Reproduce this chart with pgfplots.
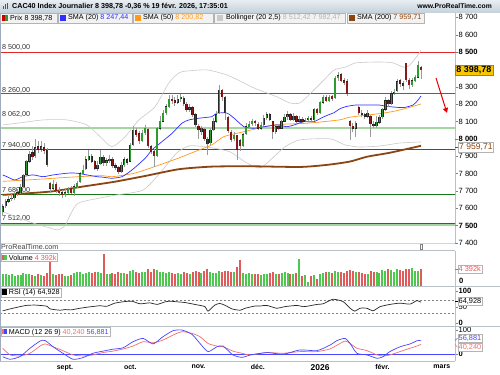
\documentclass[border=0pt]{standalone}
\usepackage{pgfplots}
\pgfplotsset{compat=1.18}
\usepackage{pgfplotstable}
\usepackage{fontspec}
\setmainfont{Liberation Sans}
\usetikzlibrary{arrows.meta}
\newcommand{\fs}[1]{\fontsize{#1}{#1}\selectfont}
\definecolor{upg}{HTML}{2E9B2E}
\definecolor{dnr}{HTML}{8A1A1A}
\definecolor{wick}{HTML}{9A9A9A}
\definecolor{volg}{HTML}{4CC84C}
\definecolor{volr}{HTML}{E25B5B}
\definecolor{sma20}{HTML}{2F2FFF}
\definecolor{sma50}{HTML}{FF9A1A}
\definecolor{sma200}{HTML}{8B4513}
\definecolor{boll}{HTML}{CACACA}
\definecolor{bolltxt}{HTML}{B4B4B4}
\definecolor{lvlg}{HTML}{1E8C1E}
\definecolor{lvllg}{HTML}{A6D6A0}
\definecolor{lvlr}{HTML}{E02828}
\definecolor{axgray}{HTML}{B8C0C8}
\definecolor{sepblue}{HTML}{C8D6F0}
\definecolor{hdr1}{HTML}{E8EEF2}
\definecolor{hdr2}{HTML}{C6D2DC}
\definecolor{boxbg}{HTML}{F2F2F2}
\definecolor{boxbd}{HTML}{B4B4B4}
\definecolor{pricey}{HTML}{F7C600}
\definecolor{macdb}{HTML}{4646FF}
\definecolor{macdr}{HTML}{F07070}

\pgfplotstableread{
i o h l c v
0 7580 7625 7560 7610 3200
1 7615 7655 7600 7640 3000
2 7640 7670 7630 7650 2900
3 7655 7690 7640 7660 3100
4 7660 7700 7650 7680 2700
5 7685 7710 7670 7690 2800
6 7690 7740 7680 7720 2900
7 7725 7800 7720 7790 3300
8 7795 7880 7790 7870 3100
9 7870 7930 7860 7910 3000
10 7920 7960 7880 7895 2900
11 7900 8000 7890 7950 2700
12 7955 7990 7920 7940 3000
13 7940 7985 7925 7955 2800
14 7950 7975 7910 7930 2600
15 7935 7950 7840 7850 3300
16 7745 7750 7690 7715 6200
17 7715 7760 7700 7740 3000
18 7740 7750 7690 7700 2900
19 7700 7720 7670 7690 3100
20 7690 7705 7660 7680 3200
21 7680 7710 7665 7690 2600
22 7690 7725 7680 7710 2700
23 7715 7730 7680 7690 2800
24 7690 7740 7670 7725 3300
25 7725 7760 7715 7745 3500
26 7750 7810 7745 7800 3600
27 7800 7850 7795 7820 3200
28 7825 7900 7820 7880 3400
29 7880 7935 7870 7900 3600
30 7900 7910 7860 7870 3400
31 7870 7880 7820 7830 3700
32 7830 7870 7815 7850 3500
33 7855 7935 7850 7895 3300
34 7895 7905 7845 7860 8300
35 7860 7890 7845 7875 3200
36 7875 7905 7860 7885 3000
37 7885 7895 7830 7845 3400
38 7845 7860 7820 7835 3100
39 7835 7845 7795 7810 3500
40 7810 7865 7805 7850 3400
41 7850 7895 7840 7880 3300
42 7880 7890 7850 7865 3000
43 7870 7975 7865 7965 4000
44 7965 8075 7960 8050 4100
45 8050 8060 8010 8025 3600
46 8030 8045 7970 7990 3400
47 7990 8050 7980 8035 3500
48 8035 8080 8025 8060 3600
49 8055 8060 7945 7960 4300
50 7955 7965 7910 7925 3700
51 7930 7940 7835 7900 4400
52 7900 8070 7895 8060 4200
53 8060 8130 8050 8100 3500
54 8100 8165 8095 8150 3600
55 8150 8200 8140 8185 3400
56 8185 8255 8180 8230 3700
57 8230 8250 8200 8220 3300
58 8220 8240 8190 8210 3100
59 8210 8250 8200 8230 3300
60 8230 8260 8215 8240 3000
61 8235 8245 8190 8200 3500
62 8200 8215 8155 8170 3400
63 8170 8200 8155 8180 3100
64 8180 8190 8125 8140 3600
65 8140 8150 8070 8080 3800
66 8075 8085 8000 8050 3700
67 8040 8075 8020 8060 3300
68 8055 8065 7990 8000 3900
69 8000 8010 7905 7970 4400
70 7975 8060 7965 8050 3600
71 8050 8120 8045 8100 3400
72 8100 8160 8090 8140 3300
73 8150 8310 8145 8280 3900
74 8280 8290 8220 8240 3700
75 8240 8245 8110 8150 4000
76 8125 8130 8035 8045 3800
77 8040 8050 7980 7995 3600
78 8000 8040 7985 8020 3500
79 8020 8025 7880 7940 4800
80 7990 8000 7930 7960 6800
81 7960 8035 7955 8025 3400
82 8030 8090 8025 8070 3200
83 8070 8100 8060 8085 3300
84 8085 8115 8075 8100 3000
85 8100 8110 8075 8090 3100
86 8085 8095 8050 8060 3200
87 8060 8095 8050 8080 2900
88 8080 8140 8075 8120 3100
89 8120 8155 8110 8140 3000
90 8140 8150 8100 8110 3300
91 8100 8105 8000 8040 3500
92 8040 8080 8030 8070 3200
93 8070 8085 8050 8060 3100
94 8060 8110 8055 8100 3300
95 8100 8145 8095 8125 3500
96 8125 8160 8110 8140 3400
97 8140 8150 8100 8110 3200
98 8110 8150 8100 8130 3000
99 8130 8140 8090 8100 3300
100 8100 8130 8090 8115 7100
101 8115 8125 8090 8100 2600
102 8100 8120 8095 8110 2900
103 8110 8130 8100 8120 1000
104 8120 8130 8100 8110 2500
105 8110 8180 8105 8170 2800
106 8170 8175 8140 8150 1800
107 8150 8220 8145 8210 3000
108 8210 8255 8200 8240 3400
109 8240 8250 8210 8220 3600
110 8220 8255 8215 8240 3500
111 8245 8250 8220 8230 3300
112 8235 8360 8230 8350 3900
113 8350 8385 8335 8365 3500
114 8370 8380 8325 8335 3600
115 8335 8350 8310 8325 3400
116 8330 8345 8245 8260 3800
117 8100 8110 7995 8075 4200
118 8075 8090 8040 8060 3900
119 8060 8100 8010 8090 3700
120 8180 8190 8135 8150 3500
121 8150 8165 8125 8140 3300
122 8140 8150 8115 8130 3200
123 8130 8165 8120 8150 3100
124 8130 8140 8010 8085 4000
125 8085 8100 8060 8075 3600
126 8075 8130 8065 8095 3500
127 8095 8140 8085 8125 3400
128 8125 8180 8115 8170 4200
129 8170 8240 8160 8220 4000
130 8220 8230 8185 8200 4300
131 8200 8275 8195 8260 4100
132 8260 8290 8250 8270 3700
133 8275 8345 8270 8330 4400
134 8335 8345 8300 8320 4100
135 8320 8335 8280 8305 3900
136 8435 8440 8330 8340 4500
137 8340 8350 8290 8310 4300
138 8310 8350 8300 8335 4600
139 8335 8370 8325 8355 3800
140 8355 8450 8350 8425 3900
141 8412 8420 8345 8398.78 4392
}\candles

\pgfplotsset{panel/.style={scale only axis, width=455bp, xmin=-0.91, xmax=152.45,
  axis y line*=right, y axis line style={draw=axgray, line width=0.5bp},
  tick align=outside, major tick length=2.5bp, tick style={draw=gray, line width=0.4bp},
  yticklabel style={font=\fs{7.6}, inner sep=1bp},
  clip mode=individual, anchor=south west},
  nox/.style={axis x line=none}}

\begin{document}
\begin{tikzpicture}
\path[use as bounding box] (0,0) rectangle (500bp,-375bp);
\fill[white] (0,0) rectangle (500bp,-375bp);

% level labels (behind candles)
\begin{scope}[font=\fs{7.2}, text=black!80]
\node[anchor=west,inner sep=0] at (2bp,-47.3bp) {8 500,00};
\node[anchor=west,inner sep=0] at (2bp,-90bp) {8 260,00};
\node[anchor=west,inner sep=0] at (2bp,-114.3bp) {8 062,00};
\node[anchor=west,inner sep=0] at (2bp,-145bp) {7 940,00};
\node[anchor=west,inner sep=0] at (2bp,-190bp) {7 680,00};
\node[anchor=west,inner sep=0] at (2bp,-218.5bp) {7 512,00};
\end{scope}

% ===== main price panel =====
\begin{axis}[panel, nox, at={(0bp,-243.3bp)}, height=231.3bp, ymin=7398, ymax=8731,
  ytick={7400,7600,7700,7800,7900,8100,8200,8300,8600,8700},
  yticklabels={7 400,7 600,7 700,7 800,7 900,8 100,8 200,8 300,8 600,8 700},
  extra y ticks={7500,8000,8500},
  extra y tick labels={\textbf{7 500},\textbf{8 000},\textbf{8 500}}]
\addplot[lvlr, line width=1bp] coordinates {(-1,8500) (153,8500)};
\addplot[lvlg, line width=1bp] coordinates {(-1,8260) (153,8260)};
\addplot[lvllg, line width=2.6bp] coordinates {(-1,8062) (153,8062)};
\addplot[lvlg!80!black, line width=1.4bp] coordinates {(-1,7940) (153,7940)};
\addplot[lvlg!85!black, line width=1.1bp] coordinates {(-1,7680) (153,7680)};
\addplot[lvllg, line width=2.2bp] coordinates {(-1,7506) (153,7506)};
\addplot[lvlg!85!black, line width=1.1bp] coordinates {(-1,7512) (153,7512)};
\addplot[boll, line width=0.6bp, smooth, tension=0.4] coordinates {(0,8080) (5.8,8092) (13.6,8109) (21.7,8109) (28.4,8080) (32.8,8013) (36.8,7955) (41.2,8011) (45.9,8109) (51.3,8184) (56,8322) (59.4,8380) (62.1,8391) (68.9,8397) (75.6,8368) (81.3,8322) (84.7,8293) (92.4,8242) (96.8,8207) (100.2,8207) (103.9,8265) (108.3,8340) (111.7,8397) (115.7,8414) (119.1,8438) (126.8,8443) (131.5,8438) (134.9,8414) (136.9,8420) (140,8484) (141,8512)};
\addplot[boll, line width=0.6bp, smooth, tension=0.4] coordinates {(0,7580) (10.2,7515) (16,7486) (18.6,7475) (21,7500) (23,7570) (25.5,7630) (32.8,7659) (38.5,7677) (47.3,7705) (53,7803) (58.7,7919) (63.1,7960) (69.9,7950) (76.6,7925) (81.7,7867) (86,7832) (88.4,7850) (95.1,7953) (100.2,7994) (110.3,8000) (115.4,7965) (120.4,7953) (127.2,7959) (133.9,7976) (141,7982)};
\addplot[sma200, line width=1.8bp, smooth, tension=0.4] coordinates {(0,7677) (16,7696) (27,7725) (37.8,7753) (48,7786) (59.4,7825) (70.5,7840) (83.4,7842) (100.2,7838) (109.3,7850) (117,7869) (122.8,7897) (130.5,7920) (141,7960)};
\addplot[sma50, line width=0.7bp, smooth, tension=0.4] coordinates {(0,7755) (10.2,7765) (21.7,7778) (32.8,7788) (37,7782) (43.9,7800) (48,7821) (55.4,7865) (59.4,7890) (66.2,7936) (70.5,7965) (74.6,8013) (81.3,8041) (91.4,8080) (102.6,8090) (113.4,8109) (117.1,8125) (128.2,8148) (134,8167) (141,8201)};
\addplot[sma20, line width=0.7bp, smooth, tension=0.4] coordinates {(0,7792) (1.4,7782) (4.1,7763) (6.8,7782) (10.2,7792) (13.6,7782) (17,7792) (21.7,7802) (25,7802) (28.4,7792) (31.8,7782) (33.8,7779) (36.8,7773) (40.2,7782) (43.6,7821) (48,7888) (50.3,7936) (53.7,7984) (57.1,8032) (60.4,8090) (62.8,8109) (66.2,8119) (70.5,8128) (72.2,8148) (75.6,8148) (78,8119) (81.3,8070) (84.7,8061) (88.1,8070) (92.5,8080) (95.8,8070) (98.2,8080) (101.5,8099) (104.9,8099) (108.3,8128) (111.7,8151) (113.4,8171) (115.7,8186) (119.1,8195) (123.5,8195) (126.8,8195) (130.2,8186) (134.9,8180) (138.3,8195) (140,8224) (141,8247)};
\addplot[draw=none, mark=none, error bars/.cd, y dir=both, y explicit, error mark=none,
  error bar style={draw=wick, line width=0.6bp}]
  table[x=i, y expr={(\thisrow{h}+\thisrow{l})/2}, y error expr={(\thisrow{h}-\thisrow{l})/2}] {\candles};
\addplot[draw=none, mark=none, error bars/.cd, y dir=both, y explicit, error mark=none,
  error bar style={draw=black!85, line width=2.3bp}]
  table[x=i, y expr={(\thisrow{o}+\thisrow{c})/2}, y error expr={max(abs(\thisrow{c}-\thisrow{o})/2+1.5,3)}] {\candles};
\addplot[draw=none, mark=none, error bars/.cd, y dir=both, y explicit, error mark=none,
  error bar style={draw=upg, line width=1.4bp}]
  table[x=i, y expr={(\thisrow{c}>=\thisrow{o}) ? (\thisrow{o}+\thisrow{c})/2 : nan}, y error expr={max(abs(\thisrow{c}-\thisrow{o})/2,1.5)}] {\candles};
\addplot[draw=none, mark=none, error bars/.cd, y dir=both, y explicit, error mark=none,
  error bar style={draw=dnr, line width=1.4bp}]
  table[x=i, y expr={(\thisrow{c}<\thisrow{o}) ? (\thisrow{o}+\thisrow{c})/2 : nan}, y error expr={max(abs(\thisrow{c}-\thisrow{o})/2,1.5)}] {\candles};
\end{axis}

% ===== volume panel =====
\begin{axis}[panel, nox, at={(0bp,-286bp)}, height=35bp, ymin=0, ymax=9050, ytick=\empty]
\addplot[ycomb, draw=volg, line width=2bp] table[x=i, y expr={(\thisrow{c}>=\thisrow{o}) ? \thisrow{v} : nan}] {\candles};
\addplot[ycomb, draw=volr, line width=2bp] table[x=i, y expr={(\thisrow{c}<\thisrow{o}) ? \thisrow{v} : nan}] {\candles};
\end{axis}

% ===== RSI panel =====
\begin{axis}[panel, nox, at={(0bp,-326bp)}, height=40bp, ymin=-9.4, ymax=115.6,
  ytick={0,50,100}, yticklabels={\textbf{0},50,\textbf{100}}]
\addplot[gray, line width=0.5bp, dash pattern=on 2bp off 2bp] coordinates {(-1,70) (153,70)};
\addplot[gray, line width=0.5bp, dash pattern=on 2bp off 2bp] coordinates {(-1,30) (153,30)};
\addplot[black!85, line width=0.7bp, smooth, tension=0.4] coordinates {(0,38) (2.5,44) (5.8,51) (8,55) (10.9,56) (13.6,54) (15,52) (16,44) (19.3,40) (21,42) (23,41) (26,46) (29,50) (32.8,54) (35,52) (37.8,62) (41.2,67) (43.6,68) (46.3,60) (49.6,63) (52,58) (54.7,66) (56.4,68) (59,66) (61.4,64) (64.8,58) (68.2,51) (69.2,37) (71.5,56) (73.2,61) (75,55) (77.3,44) (80,40) (81.7,46) (85,53) (86.7,53) (89,55) (92.4,46) (95,51) (99.2,55) (101.2,51) (103,53) (105.9,58) (108,60) (111.3,74) (114.7,67) (117.1,46) (118.7,37) (120.4,46) (122.8,46) (124.8,38) (127.2,51) (130.5,58) (133.9,62) (137.3,59) (139.6,70) (141,64.928)};
\end{axis}

% ===== MACD panel =====
\begin{axis}[panel, at={(0bp,-361bp)}, height=35bp, ymin=-29.2, ymax=116.7,
  ytick={0,100}, yticklabels={\textbf{0},100},
  axis x line*=bottom, x axis line style={draw=axgray, line width=0.5bp},
  xtick={21,43,66,86,107,128,148},
  xticklabels={sept.,oct.,nov.,déc.,{\fs{8.5}2026},févr.,mars},
  xticklabel style={font=\bfseries\fs{7}, inner sep=1bp},
  xtick style={draw=none}, xticklabel pos=lower]
\addplot[macdb, line width=1bp] coordinates {(-1,0) (153,0)};
\addplot[macdr, line width=0.7bp, smooth, tension=0.4] coordinates {(0,24) (2.5,-4) (5.8,-8) (9.2,3) (12.6,33) (14.3,42) (17,30) (20.3,14) (23.7,-4) (27.1,-8) (30.4,-4) (33.8,6) (37.2,12) (40.6,21) (43.9,33) (47.3,51) (50.7,47) (54,58) (57.4,79) (60.4,93) (63.8,86) (66.5,72) (69.2,44) (72.2,33) (74.3,30) (77.6,12) (80.7,3) (83.4,-4) (89.1,6) (94.5,3) (100.2,10) (105.9,10) (110.3,21) (112.7,37) (115.4,54) (117.1,44) (119.4,24) (122.8,14) (126.2,-4) (128.2,-8) (130.5,-4) (133.9,10) (137.3,24) (139.6,33) (141,40.24)};
\addplot[macdb, line width=0.7bp, smooth, tension=0.4] coordinates {(0,-11) (2.5,-22) (5.8,-11) (9.2,24) (12.6,54) (14.3,56) (17,30) (20.3,3) (23.7,-22) (27.1,-15) (30.4,3) (33.8,12) (37.2,20) (40.6,26) (43.9,51) (47.3,65) (50.7,42) (54,72) (57.4,97) (60.4,100) (63.8,82) (66.5,44) (69.2,10) (72.2,30) (74.3,33) (77.6,-4) (80.7,-14) (83.4,-4) (89.1,6) (94.5,-1) (100.2,17) (105.9,14) (110.3,37) (112.7,56) (115.4,65) (117.1,44) (119.4,3) (122.8,-4) (126.2,-18) (128.2,-11) (130.5,10) (133.9,30) (137.3,42) (139.6,55) (141,56.881)};
\end{axis}

% ===== right-hand value boxes (pixel positions) =====
\begin{scope}[vbox/.style={anchor=west, draw=boxbd, fill=white, inner sep=1bp, line width=0.4bp}]
\node[anchor=west, fill=pricey, draw=black!50, line width=0.3bp, inner sep=1.3bp, font=\bfseries\fs{9}] at (455bp,-70.2bp) {8 398,78};
\draw[sma200, line width=0.5bp] (455bp,-147.2bp) -- (458bp,-147.2bp);
\node[vbox, text=sma200, font=\fs{8.6}] at (458bp,-147.2bp) {7 959,71};
\draw[volr, line width=0.5bp] (455bp,-269bp) -- (457.5bp,-269bp);
\node[vbox, text=volr, font=\fs{7.4}] at (457.5bp,-269bp) {4 392k};
\node[anchor=west, font=\bfseries\fs{7.6}, inner sep=0] at (459bp,-281bp) {0};
\draw[black, line width=0.5bp] (455bp,-301.5bp) -- (457.5bp,-301.5bp);
\node[vbox, text=black, font=\fs{7.4}] at (457.5bp,-301.5bp) {64,928};
\draw[macdb, line width=0.5bp] (455bp,-340.3bp) -- (457.5bp,-338.3bp);
\node[vbox, text=macdb, font=\fs{7.4}] at (457.5bp,-338.3bp) {56,881};
\draw[macdr, line width=0.5bp] (455bp,-344.3bp) -- (457.5bp,-347.3bp);
\node[vbox, text=macdr, font=\fs{7.4}] at (457.5bp,-347.3bp) {40,240};
\end{scope}

% separators
\draw[sepblue, line width=0.8bp] (0,-243.3bp) -- (455bp,-243.3bp);
\draw[axgray, line width=0.6bp] (0,-250.7bp) -- (455bp,-250.7bp);
\draw[axgray, line width=0.6bp] (0,-286bp) -- (500bp,-286bp);
\draw[axgray, line width=0.6bp] (0,-326bp) -- (500bp,-326bp);
\draw[axgray, line width=0.6bp] (0,-361bp) -- (455bp,-361bp);
\draw[sepblue!80!black, line width=0.8bp] (0.4bp,-12bp) -- (0.4bp,-361bp);

\node[anchor=west, font=\fs{7.2}, text=black!75, inner sep=0] at (1bp,-246.8bp) {ProRealTime.com};
\node[draw=gray, inner sep=0.6bp, font=\fs{5}, text=gray] at (421bp,-246.5bp) {i};

% panel legends
\node[anchor=west, draw=boxbd, fill=white, inner sep=1.2bp, font=\fs{7.2}, line width=0.4bp] at (1bp,-257.5bp) {\textcolor{volr}{\rule{2bp}{5.5bp}}\textcolor{volg}{\rule{2.5bp}{5.5bp}}\ Volume \textcolor{volr}{4 392k}};
\node[anchor=west, draw=boxbd, fill=white, inner sep=1.2bp, font=\fs{7.2}, line width=0.4bp] at (1bp,-292.5bp) {\rule{4.5bp}{5.5bp}\ RSI (14) 64,928};
\node[anchor=west, draw=boxbd, fill=white, inner sep=1.2bp, font=\fs{7.2}, line width=0.4bp] at (1bp,-332bp) {\textcolor{macdr}{\rule{2bp}{5.5bp}}\textcolor{macdb}{\rule{2.5bp}{5.5bp}}\ MACD (12 26 9) \textcolor{macdr}{40,240} \textcolor{macdb}{56,881}};

% red arrow
\draw[-{Triangle[length=5bp,width=5bp]}, red!90!black, line width=1bp] (436bp,-78bp) -- (447bp,-113bp);

% ===== header =====
\shade[top color=hdr1, bottom color=hdr2] (0,0) rectangle (500bp,-12bp);
\fill[blue!75] (2.5bp,-9bp) rectangle (3.7bp,-6bp);
\fill[blue!75] (4.7bp,-9bp) rectangle (5.9bp,-4bp);
\fill[blue!75] (6.9bp,-9bp) rectangle (8.1bp,-3bp);
\node[anchor=west, font=\bfseries\fs{7.2}, inner sep=0] at (12bp,-6bp) {CAC40 Index Journalier 8 398,78 -0,36 \% 19 févr. 2026, 17:35:01};
\node[anchor=east, font=\bfseries\fs{6.8}, inner sep=0] at (492bp,-6bp) {www.ProRealTime.com};

\begin{scope}[line width=0.4bp]
\filldraw[fill=boxbg, draw=boxbd] (0.4bp,-13.3bp) rectangle (57bp,-22.7bp);
\filldraw[fill=boxbg, draw=boxbd] (58bp,-13.3bp) rectangle (132bp,-22.7bp);
\filldraw[fill=boxbg, draw=boxbd] (133bp,-13.3bp) rectangle (213bp,-22.7bp);
\filldraw[fill=boxbg, draw=boxbd] (214bp,-13.3bp) rectangle (345bp,-22.7bp);
\filldraw[fill=boxbg, draw=boxbd] (347bp,-13.3bp) rectangle (424bp,-22.7bp);
\end{scope}
\fill[red!80!black] (2bp,-15bp) rectangle (4.5bp,-21bp);
\fill[upg] (4.5bp,-15bp) rectangle (7.5bp,-21bp);
\fill[sma20] (60bp,-15bp) rectangle (65.5bp,-21bp);
\fill[sma50] (135bp,-15bp) rectangle (140.5bp,-21bp);
\fill[boll] (217bp,-15bp) rectangle (222.5bp,-21bp);
\fill[sma200] (349bp,-15bp) rectangle (354.5bp,-21bp);
\begin{scope}[font=\fs{7.2}]
\node[anchor=west, inner sep=0] at (10bp,-18bp) {Prix 8 398,78};
\node[anchor=west, inner sep=0] at (68bp,-18bp) {SMA (20) \textcolor{sma20}{8 247,44}};
\node[anchor=west, inner sep=0] at (143bp,-18bp) {SMA (50) \textcolor{sma50}{8 200,82}};
\node[anchor=west, inner sep=0] at (226bp,-18bp) {Bollinger (20 2,5) \textcolor{bolltxt}{8 512,42 7 982,47}};
\node[anchor=west, inner sep=0] at (357bp,-18bp) {SMA (200) \textcolor{sma200}{7 959,71}};
\end{scope}
\end{tikzpicture}
\end{document}
